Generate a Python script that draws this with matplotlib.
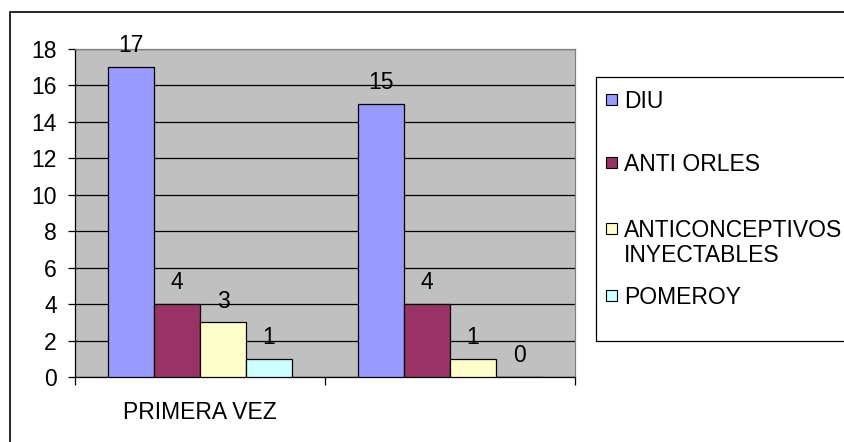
import matplotlib.pyplot as plt
from matplotlib.patches import Rectangle

categories = ["PRIMERA VEZ", ""]
series = ["DIU", "ANTI ORLES", "ANTICONCEPTIVOS\nINYECTABLES", "POMEROY"]
values = [
    [17, 15],
    [4, 4],
    [3, 1],
    [1, 0],
]
colors = ["#9999FF", "#993366", "#FFFFCC", "#CCFFFF"]
yticks = [0, 2, 4, 6, 8, 10, 12, 14, 16, 18]

plt.rcParams["font.family"] = ["Liberation Sans", "DejaVu Sans"]
fs = 16.5

fig = plt.figure(figsize=(8.44, 4.42), dpi=100)
ax = fig.add_axes([75 / 844, 65 / 442, 500 / 844, 328 / 442])
ax.set_facecolor("#C0C0C0")

w = 0.184
x = list(range(len(categories)))
for i, (name, vals, c) in enumerate(zip(series, values, colors)):
    xs = [xi + (i - 1.5) * w for xi in x]
    bars = ax.bar(xs, vals, width=w, color=c, edgecolor="black", linewidth=0.9, zorder=3)
    for b, v in zip(bars, vals):
        ax.annotate(str(v), (b.get_x() + b.get_width() / 2, v), xytext=(0, 7),
                    textcoords="offset points", ha="center", va="bottom",
                    fontsize=fs, zorder=4)

ax.set_ylim(0, 18)
ax.set_xlim(-0.5, 1.5)
ax.set_yticks(yticks)
ax.tick_params(axis="y", labelsize=fs, direction="out", length=5, width=0.9, pad=8)
ax.yaxis.grid(True, color="black", linewidth=0.9, zorder=1)
ax.set_axisbelow(True)

ax.set_xticks([-0.5, 0.5, 1.5])
ax.set_xticklabels([])
ax.set_xticks(x, minor=True)
ax.set_xticklabels(categories, minor=True, fontsize=fs)
ax.tick_params(axis="x", which="major", direction="out", length=6, width=0.9)
ax.tick_params(axis="x", which="minor", length=0, pad=17)

for s in ["left", "bottom"]:
    ax.spines[s].set_color("black")
    ax.spines[s].set_linewidth(0.9)
for s in ["top", "right"]:
    ax.spines[s].set_color("#808080")
    ax.spines[s].set_linewidth(0.9)

# outer chart border
fig.patches.append(Rectangle((9.5 / 844, -0.2), 1.2, (442 - 11.5) / 442 + 0.2,
                             transform=fig.transFigure, fill=False,
                             edgecolor="black", linewidth=1.2))

# legend box
fig.patches.append(Rectangle((596 / 844, (442 - 341) / 442), 0.5, 264 / 442,
                             transform=fig.transFigure, fill=False,
                             edgecolor="black", linewidth=0.9))
legend_y = [100, 163, 229, 296]
for name, c, yy in zip(series, colors, legend_y):
    fig.patches.append(Rectangle((606 / 844, (442 - yy - 5) / 442), 11 / 844, 11 / 442,
                                 transform=fig.transFigure, facecolor=c,
                                 edgecolor="black", linewidth=0.8))
    for k, line in enumerate(name.split("\n")):
        base = yy + 8 + k * 25
        fig.text(624 / 844, (442 - base) / 442, line, fontsize=fs,
                 ha="left", va="baseline")

fig.savefig("out.png", dpi=100)
